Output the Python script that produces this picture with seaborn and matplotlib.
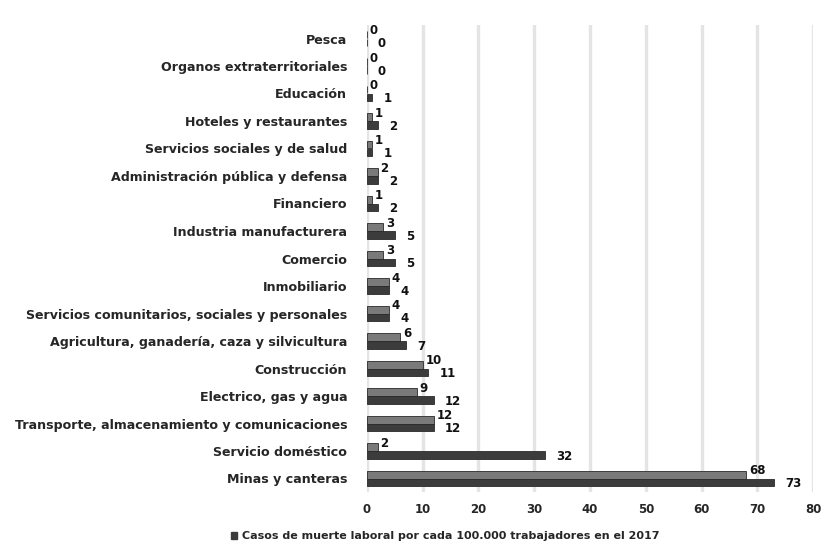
import matplotlib
matplotlib.use("Agg")
import matplotlib.pyplot as plt
import seaborn as sns
import pandas as pd
from matplotlib.patches import Patch

categories = [
    "Pesca", "Organos extraterritoriales", "Educación", "Hoteles y restaurantes",
    "Servicios sociales y de salud", "Administración pública y defensa", "Financiero",
    "Industria manufacturera", "Comercio", "Inmobiliario",
    "Servicios comunitarios, sociales y personales",
    "Agricultura, ganadería, caza y silvicultura", "Construcción",
    "Electrico, gas y agua", "Transporte, almacenamiento y comunicaciones",
    "Servicio doméstico", "Minas y canteras",
]
series_a = [0, 0, 0, 1, 1, 2, 1, 3, 3, 4, 4, 6, 10, 9, 12, 2, 68]
series_b = [0, 0, 1, 2, 1, 2, 2, 5, 5, 4, 4, 7, 11, 12, 12, 32, 73]
name_a = "Casos de muerte laboral por cada 100.000 trabajadores en el 2016"
name_b = "Casos de muerte laboral por cada 100.000 trabajadores en el 2017"
xticks = [0, 10, 20, 30, 40, 50, 60, 70, 80]

df = pd.DataFrame({
    "sector": categories * 2,
    "valor": series_a + series_b,
    "serie": [name_a] * len(categories) + [name_b] * len(categories),
})

sns.set_theme(style="white")
plt.rcParams['font.family'] = ['DejaVu Sans']

fig = plt.figure(figsize=(8.24, 5.5), dpi=100)
ax = fig.add_axes([0.445, 0.105, 0.542, 0.85])

colors = {name_a: "#7a7a7a", name_b: "#3c3c3c"}
sns.barplot(data=df, y="sector", x="valor", hue="serie", orient="h",
            palette=colors, width=0.58, ax=ax, legend=False,
            edgecolor="#2a2a2a", linewidth=0.6)

ax.set_xlim(0, 80)
ax.set_xticks(xticks)
ax.set_xticklabels([str(t) for t in xticks], fontsize=8.5, fontweight="bold")
ax.tick_params(axis="y", labelsize=9.1, length=0, pad=14)
for lab in ax.get_yticklabels():
    lab.set_fontweight("bold")
ax.tick_params(axis="x", length=0, pad=8)
ax.set_xlabel("")
ax.set_ylabel("")
ax.xaxis.grid(True, color="#e4e4e4", linewidth=2.4)
ax.set_axisbelow(True)
for s in ax.spines.values():
    s.set_visible(False)

# value labels
cont_a, cont_b = ax.containers[0], ax.containers[1]
for bar, v in zip(cont_a, series_a):
    x = bar.get_width()
    y = bar.get_y()
    ax.annotate(str(v), (x, y), xytext=(2, 0), textcoords="offset points",
                ha="left", va="center", fontsize=8.5, fontweight="bold", color="#111111")
for bar, v in zip(cont_b, series_b):
    x = bar.get_width()
    y = bar.get_y() + bar.get_height() / 2
    ax.annotate(str(v), (x, y), xytext=(8, -1), textcoords="offset points",
                ha="left", va="center", fontsize=8.5, fontweight="bold", color="#111111")

handles = [Patch(facecolor=colors[name_b], edgecolor=colors[name_b])]
fig.legend(handles, [name_b], loc="center", bbox_to_anchor=(0.54, 0.025),
           frameon=False, prop={"weight": "bold", "size": 8},
           handlelength=0.6, handleheight=0.6, handletextpad=0.4)

fig.savefig("out.png", dpi=100, facecolor="white")
